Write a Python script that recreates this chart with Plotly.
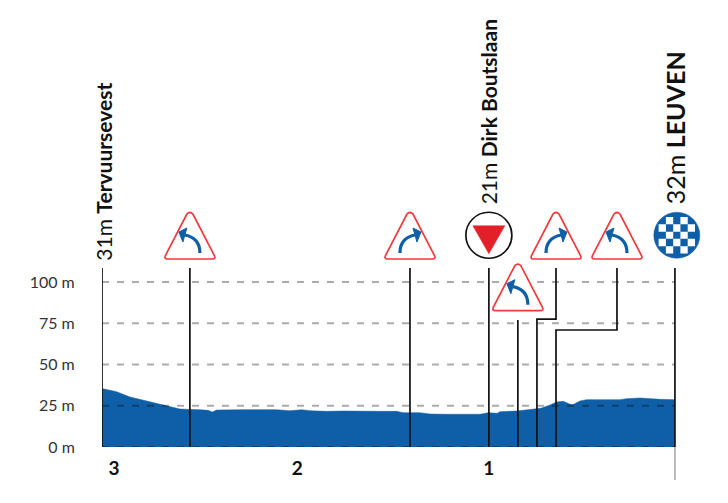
import plotly.graph_objects as go

# Profile, km to the finish and metres
profile_km = [3.064, 2.986, 2.914, 2.825, 2.736, 2.647, 2.540, 2.496, 2.474, 2.451, 2.326, 2.183,
              2.130, 2.059, 1.996, 1.952, 1.863, 1.774, 1.684, 1.631, 1.578, 1.488, 1.453, 1.364,
              1.310, 1.221, 1.043, 0.998, 0.950, 0.936, 0.847, 0.740, 0.713, 0.668, 0.633, 0.597,
              0.561, 0.544, 0.508, 0.472, 0.294, 0.258, 0.187, 0.080, 0.0]
profile_m = [35.4, 33.5, 30.3, 27.9, 25.7, 23.0, 22.6, 22.2, 21.2, 22.4, 22.6, 22.4,
             22.6, 22.0, 22.6, 22.0, 21.6, 21.8, 21.6, 21.4, 21.6, 21.6, 20.8, 20.8,
             20.0, 19.8, 19.8, 20.8, 20.4, 21.4, 21.8, 23.2, 23.6, 25.5, 27.3, 27.7,
             25.9, 25.7, 27.9, 28.7, 28.7, 29.3, 29.7, 28.9, 28.7]

grid_m = [0, 25, 50, 75, 100]
grid_labels = ['0 m', '25 m', '50 m', '75 m', '100 m']
km_ticks = [3.0, 2.02, 0.995]
km_labels = ['3', '2', '1']

# Route markers: straight poles from the road up to the sign row
pole_km = [3.064, 2.594, 1.417, 0.995, 0.0]
pole_top_m = 108.5

# Poles with a kink, (km, m) along the line
low_pole_km = [0.84, 0.84]
low_pole_m = [0, 77]
kink1_km = [0.738, 0.738, 0.636, 0.636]
kink1_m = [0, 77.5, 77.5, 108.5]
kink2_km = [0.636, 0.636, 0.31, 0.31]
kink2_m = [0, 70.9, 70.9, 108.5]

# Place names
name_km = [3.055, 1.0, -0.005]
name_m = [111.5, 146.1, 146.1]
name_size = [21, 21, 25]
name_text = ['31m <b>Tervuursevest</b>', '21m <b>Dirk Boutslaan</b>', '32m <b>LEUVEN</b>']

left_sign_km = [2.594, 0.31]
right_sign_km = [1.417, 0.636]
low_sign_km = [0.84]
sign_base_m = 113.9
low_sign_base_m = 82.6
sign_mid_m = 128.3

BLUE = '#0f5fa8'
RED = '#f0393d'
GRID = 'rgba(0,0,0,0.33)'

fig = go.Figure()

fig.add_trace(go.Scatter(x=profile_km, y=profile_m, mode='lines', fill='tozeroy',
                         fillcolor=BLUE, line=dict(color=BLUE, width=0.5), hoverinfo='skip'))

# grid goes over the profile
for g in grid_m:
    fig.add_trace(go.Scatter(x=[profile_km[0], 0], y=[g, g], mode='lines',
                             line=dict(color=GRID, width=2, dash='7px 8px'), hoverinfo='skip'))

for k in pole_km:
    fig.add_trace(go.Scatter(x=[k, k], y=[0, pole_top_m], mode='lines', cliponaxis=False,
                             line=dict(color='#111111', width=1.7), hoverinfo='skip'))
for xs, ys in [(low_pole_km, low_pole_m), (kink1_km, kink1_m), (kink2_km, kink2_m)]:
    fig.add_trace(go.Scatter(x=xs, y=ys, mode='lines', cliponaxis=False,
                             line=dict(color='#111111', width=1.7), hoverinfo='skip'))

# thin tail under the finish
fig.add_shape(type='line', xref='x', yref='paper', x0=0, x1=0, y0=0, y1=-33 / 439,
              line=dict(color='#777777', width=1))

for k, m, sz, t in zip(name_km, name_m, name_size, name_text):
    fig.add_annotation(x=k, y=m, xref='x', yref='y', text=t, showarrow=False,
                       textangle=-90, xanchor='center', yanchor='bottom',
                       font=dict(family='Lato', size=sz, color='#111111'))


def icon(k, m, path, **kw):
    fig.add_shape(type='path', xref='x', yref='y', xsizemode='pixel', ysizemode='pixel',
                  xanchor=k, yanchor=m, path=path, **kw)


def add_sign(k, base_m, flip):
    s = -1 if flip else 1
    icon(k, base_m, 'M -3,45 Q 0,48 3,45 L 24.5,3.5 Q 26,0 22.5,0 L -22.5,0 Q -26,0 -24.5,3.5 Z',
         fillcolor='white', line=dict(color=RED, width=1.7))
    icon(k, base_m, f'M {-10 * s},6 Q {-10 * s},21 {5 * s},24', line=dict(color=BLUE, width=3.2))
    icon(k, base_m, f'M {11 * s},27 L {3 * s},31 L {7 * s},17 Z',
         fillcolor=BLUE, line=dict(color=BLUE, width=1))


for k in left_sign_km:
    add_sign(k, sign_base_m, True)
for k in right_sign_km:
    add_sign(k, sign_base_m, False)
for k in low_sign_km:
    add_sign(k, low_sign_base_m, True)

# last km sign
fig.add_shape(type='circle', xref='x', yref='y', xsizemode='pixel', ysizemode='pixel',
              xanchor=0.995, yanchor=sign_mid_m, x0=-23, x1=23, y0=-23, y1=23,
              fillcolor='white', line=dict(color='#111111', width=1.7))
icon(0.995, sign_mid_m, 'M -16,9.5 L 16,9.5 L 0,-18.5 Z',
     fillcolor='#e3202a', line=dict(color='#e3202a', width=0.5))

# finish disc with the chequers
fig.add_shape(type='circle', xref='x', yref='y', xsizemode='pixel', ysizemode='pixel',
              xanchor=-0.01, yanchor=sign_mid_m, x0=-23, x1=23, y0=-23, y1=23,
              fillcolor=BLUE, line=dict(color=BLUE, width=0.5))
cell = 7.3
chq = ''
for row in range(-2, 3):
    for c in ([-2, 0, 2] if row % 2 else [-1, 1]):
        x0, x1 = c * cell - cell / 2, c * cell + cell / 2
        y0, y1 = row * cell - cell / 2, row * cell + cell / 2
        chq += f'M {x0:.1f},{y0:.1f} L {x1:.1f},{y0:.1f} L {x1:.1f},{y1:.1f} L {x0:.1f},{y1:.1f} Z '
icon(-0.01, sign_mid_m, chq, fillcolor='white', line=dict(width=0))

# the page puts the figure 8px in from the corner, the axes run on to the top and right edge
fig.update_layout(
    width=712, height=487, showlegend=False, plot_bgcolor='white', paper_bgcolor='white',
    margin=dict(l=94, r=0, t=0, b=48),
    xaxis=dict(range=[profile_km[0], -0.241], showgrid=False, zeroline=False, showline=False,
               tickmode='array', tickvals=km_ticks, ticktext=km_labels, ticks='outside',
               ticklen=4, tickcolor='rgba(0,0,0,0)',
               tickfont=dict(family='Lato', size=19, color='#111111', weight='bold')),
    yaxis=dict(range=[0, 266], showgrid=False, zeroline=False, showline=False,
               tickmode='array', tickvals=grid_m, ticktext=grid_labels, ticks='outside',
               ticklen=23, tickcolor='rgba(0,0,0,0)',
               tickfont=dict(family='Lato', size=16, color='#333333')),
)

fig.write_html('out.html')
